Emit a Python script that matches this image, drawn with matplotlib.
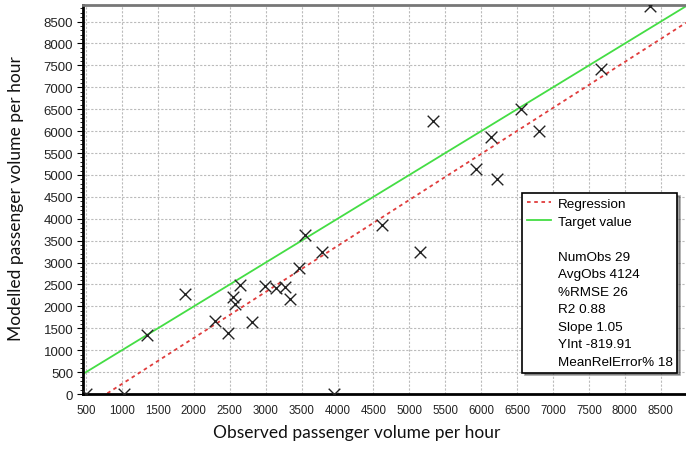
import matplotlib
matplotlib.use("Agg")
import matplotlib.pyplot as plt
from matplotlib.lines import Line2D
import numpy as np

# observed vs modelled passenger volumes
observed = [500, 1030, 1350, 1880, 2290, 2470, 2550, 2580, 2646, 2810,
            2995, 3148, 3264, 3334, 3463, 3552, 3785, 3947, 4621, 5145,
            5332, 5924, 6131, 6214, 6549, 6809, 7664, 8351]
modelled = [0, 0, 1340, 2280, 1660, 1390, 2215, 2050, 2480, 1646,
            2466, 2429, 2452, 2162, 2868, 3619, 3240, 0, 3847, 3240,
            6222, 5130, 5866, 4917, 6503, 5994, 7414, 8855]

slope = 1.05
intercept = -819.91
stats = ["NumObs 29", "AvgObs 4124", "%RMSE 26", "R2 0.88",
         "Slope 1.05", "YInt -819.91", "MeanRelError% 18"]

x_ticks = np.arange(500, 9000, 500)
y_ticks = np.arange(0, 9000, 500)
x_min, x_max = 458, 8850
y_min, y_max = 0, 8880

fig = plt.figure(figsize=(6.86, 4.52), dpi=100)
ax = fig.add_axes([0.121, 0.126, 0.879, 0.861])

line_x = np.array([x_min, x_max])
ax.plot(line_x, line_x, color="#44dd44", lw=1.3, zorder=2)
ax.plot(line_x, slope * line_x + intercept, color="#e03c3c", lw=1.3,
        linestyle=(0, (2, 2)), zorder=2)
ax.scatter(observed, modelled, marker="x", s=70, color="#222222",
           linewidths=1.0, zorder=3, clip_on=True)

ax.set_xlim(x_min, x_max)
ax.set_ylim(y_min, y_max)
ax.set_xticks(x_ticks)
ax.set_yticks(y_ticks)
ax.set_yticks(np.arange(0, 8900, 100), minor=True)
ax.tick_params(axis="x", labelsize=8.3, length=0, pad=7)
ax.tick_params(axis="y", which="major", labelsize=9.5, length=4, pad=3)
ax.tick_params(axis="y", which="minor", length=2)
for lab in ax.get_xticklabels() + ax.get_yticklabels():
    lab.set_family(["Liberation Sans", "DejaVu Sans"])
    lab.set_color("#222222")

ax.grid(True, color="#bbbbbb", linestyle=(0, (2, 1.5)), lw=0.8, zorder=0)
ax.spines["left"].set_linewidth(2)
ax.spines["bottom"].set_linewidth(2)
ax.spines["top"].set_linewidth(2)
ax.spines["top"].set_color("#777777")
ax.spines["right"].set_visible(False)

lab_font = dict(family=["Lato", "DejaVu Sans"], fontsize=12.5, color="#111111")
fig.text(0.52, 0.025, "Observed passenger volume per hour", ha="center",
         va="bottom", **lab_font)
fig.text(0.012, 0.56, "Modelled passenger volume per hour", ha="left",
         va="center", rotation=90, **lab_font)

handles = [Line2D([], [], color="#e03c3c", lw=1.3, linestyle=(0, (2, 2))),
           Line2D([], [], color="#44dd44", lw=1.3),
           Line2D([], [], color="none")]
labels = ["Regression", "Target value", ""]
for s in stats:
    handles.append(Line2D([], [], color="none"))
    labels.append(s)
leg = ax.legend(handles, labels, loc="upper left", bbox_to_anchor=(0.728, 0.517),
                prop={"family": ["Liberation Sans", "DejaVu Sans"], "size": 9.7},
                frameon=True, fancybox=False, shadow=True, edgecolor="black",
                framealpha=1, labelspacing=0.38, handlelength=1.8,
                handletextpad=0.5, borderpad=0.35, borderaxespad=0)
leg.get_frame().set_linewidth(1.2)

fig.savefig("out.png", dpi=100)
